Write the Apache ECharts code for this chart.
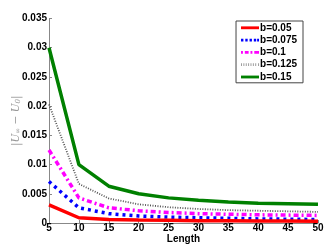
<!DOCTYPE html>
<html><head><meta charset="utf-8">
<script src="https://cdn.jsdelivr.net/npm/echarts@6/dist/echarts.min.js"></script>
<style>html,body{margin:0;padding:0;background:#fff}#c{width:332px;height:249px}</style>
</head><body><div id="c"></div>
<script>
var lengths = [5, 10, 15, 20, 25, 30, 35, 40, 45, 50];
var names = ['b=0.05', 'b=0.075', 'b=0.1', 'b=0.125', 'b=0.15'];
var b005  = [0.0031, 0.0009, 0.0006, 0.0005, 0.00045, 0.0004, 0.00037, 0.00035, 0.00033, 0.0003];
var b0075 = [0.0071, 0.0026, 0.0016, 0.0012, 0.0010, 0.0009, 0.0008, 0.0007, 0.00065, 0.0006];
var b01   = [0.0125, 0.0043, 0.0026, 0.0021, 0.0018, 0.0016, 0.0015, 0.0014, 0.00135, 0.0013];
var b0125 = [0.0203, 0.0067, 0.0042, 0.0032, 0.0027, 0.0024, 0.0022, 0.0021, 0.0020, 0.0019];
var b015  = [0.0300, 0.0100, 0.0063, 0.0050, 0.0043, 0.0039, 0.0036, 0.0034, 0.0033, 0.0032];

var styles = [
  {color: '#ff0000', width: 3.5, type: 'solid'},
  {color: '#0000ff', width: 3.5, type: [3, 4]},
  {color: '#ff00ff', width: 3.5, type: [5, 3, 2, 3]},
  {color: '#555555', width: 1.8, type: [1, 1.5]},
  {color: '#008000', width: 3.5, type: 'solid'}
];
var icons = [
  'path://M0,0H19V3H0Z',
  'path://M0,0H2.5V3H0ZM4.5,0H7V3H4.5ZM9,0H11.5V3H9ZM13.5,0H16V3H13.5ZM17,0H19V3H17Z',
  'path://M0,0H2V3H0ZM4,0H8V3H4ZM10,0H12V3H10ZM14,0H19V3H14Z',
  'path://M0,0H1V3H0ZM2.5,0H3.5V3H2.5ZM5,0H6V3H5ZM7.5,0H8.5V3H7.5ZM10,0H11V3H10ZM12.5,0H13.5V3H12.5ZM15,0H16V3H15ZM18,0H19V3H18Z',
  'path://M0,0H19V3H0Z'
];
var iconColors = ['#ff0000', '#0000ff', '#ff00ff', '#999999', '#008000'];
var datasets = [b005, b0075, b01, b0125, b015];
var series = datasets.map(function (d, i) {
  return {
    name: names[i], type: 'line', symbol: 'none', animation: false,
    data: lengths.map(function (x, j) { return [x, d[j]]; }),
    lineStyle: styles[i], itemStyle: {color: styles[i].color}, z: 10 - i
  };
});

var chart = echarts.init(document.getElementById('c'), null, {renderer: 'canvas'});
chart.setOption({
  animation: false,
  grid: {left: 49, right: 14, top: 18.5, bottom: 26, outerBoundsMode: 'none', containLabel: false},
  legend: {
    right: 29, top: 21, orient: 'vertical',
    data: names.map(function (n, i) { return {name: n, icon: icons[i], itemStyle: {color: iconColors[i]}}; }),
    itemWidth: 18, itemHeight: 3, itemGap: 0.7,
    backgroundColor: '#fff', borderColor: '#444', borderWidth: 1,
    padding: [1, 6, 0, 5],
    textStyle: {fontFamily: 'Liberation Sans', fontWeight: 'bold', fontSize: 10, lineHeight: 11.6, color: '#000', padding: [0, 0, 0, -4]}
  },
  xAxis: {
    type: 'value', min: 5, max: 50, interval: 5,
    name: 'Length', nameLocation: 'middle', nameGap: 11, nameMoveOverlap: false,
    nameTextStyle: {fontFamily: 'Liberation Sans', fontWeight: 'bold', fontSize: 10, color: '#000'},
    axisLine: {lineStyle: {color: '#888', width: 1}},
    axisTick: {inside: true, length: 3, lineStyle: {color: '#888'}},
    axisLabel: {fontFamily: 'Liberation Sans', fontWeight: 'bold', fontSize: 10, color: '#000', margin: 0.5},
    splitLine: {show: false}
  },
  yAxis: {
    type: 'value', min: 0, max: 0.035, interval: 0.005,
    name: '{a||U}{s|∞}{a| − U}{s|0}{a||}', nameLocation: 'middle', nameGap: 27, nameMoveOverlap: false,
    nameTextStyle: {
      rich: {
        a: {fontFamily: 'DejaVu Serif', fontStyle: 'italic', fontSize: 10.5, color: '#999'},
        s: {fontFamily: 'DejaVu Serif', fontStyle: 'italic', fontSize: 7, color: '#999', verticalAlign: 'bottom', padding: [4, 0, 0, 0]}
      }
    },
    axisLine: {show: true, lineStyle: {color: '#888', width: 1}},
    axisTick: {show: true, inside: true, length: 3, lineStyle: {color: '#888'}},
    axisLabel: {fontFamily: 'Liberation Sans', fontWeight: 'bold', fontSize: 10, color: '#000', margin: 2,
      formatter: function (v) { return String(parseFloat(v.toFixed(3))); }},
    splitLine: {show: false}
  },
  series: series
});
</script></body></html>
